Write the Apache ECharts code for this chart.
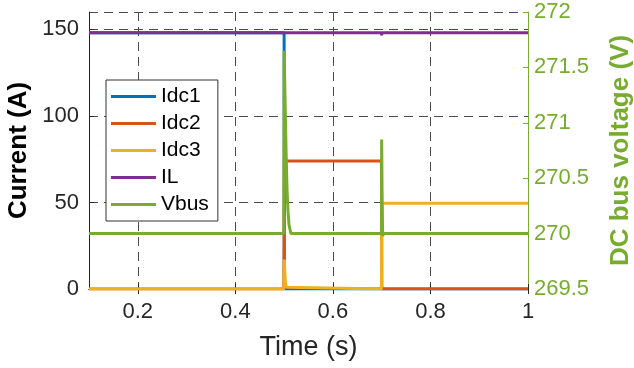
<!DOCTYPE html>
<html>
<head>
<meta charset="utf-8">
<script src="https://cdn.jsdelivr.net/npm/echarts@6/dist/echarts.min.js"></script>
<style>
  html, body { margin: 0; padding: 0; background: #fff; }
  #chart { width: 634px; height: 368px; }
</style>
</head>
<body>
<div id="chart"></div>
<script>
// Time axis ticks (s)
const timeTicks = [0.2, 0.4, 0.6, 0.8, 1];

// Idc1: source 1 current (A)
const idc1T = [0.1, 0.5, 0.5005, 1];
const idc1V = [148, 148, 0, 0];

// Idc2: source 2 current (A)
const idc2T = [0.1, 0.4995, 0.5005, 0.501, 0.503, 0.6995, 0.7005, 1];
const idc2V = [0, 0, 74, 75.5, 74, 74, 0, 0];

// Idc3: source 3 current (A)
const idc3T = [0.1, 0.4995, 0.5005, 0.501, 0.502, 0.503, 0.505, 0.508, 0.6995, 0.7005, 1];
const idc3V = [0, 0, 17, 13, 7, 3, 1, 0, 0, 49.5, 49.5];

// IL: load current (A)
const ilT = [0.1, 0.6995, 0.7, 0.7005, 1];
const ilV = [148, 148, 146.5, 148, 148];

// Vbus: DC bus voltage (V)
const vbusT = [0.1, 0.4995, 0.5, 0.502, 0.504, 0.506, 0.508, 0.51, 0.514, 0.6995, 0.7, 0.701, 0.702, 0.704, 1];
const vbusV = [270, 270, 271.65, 271.2, 270.75, 270.4, 270.2, 270.08, 270, 270, 270.85, 270.3, 269.98, 270, 270];

const pair = (t, v) => t.map((x, i) => [x, v[i]]);

const FONT = "'Liberation Sans', Arial, Helvetica, sans-serif";
const GREEN = '#77AC30';
const AXIS = '#262626';
const GRID = '#4a4a4a';

const chart = echarts.init(document.getElementById('chart'), null, { renderer: 'canvas' });

chart.setOption({
  animation: false,
  backgroundColor: '#fff',
  textStyle: { fontFamily: FONT },
  grid: { left: 89, right: 106, top: 12, bottom: 79, containLabel: false, outerBoundsMode: 'none' },
  legend: {
    data: ['Idc1', 'Idc2', 'Idc3', 'IL', 'Vbus'],
    orient: 'vertical',
    left: 106, top: 80,
    padding: [6, 9, 6, 5],
    itemWidth: 45, itemHeight: 3, itemGap: 6,
    icon: 'rect',
    backgroundColor: '#fff',
    borderColor: '#333',
    borderWidth: 1,
    textStyle: { fontFamily: FONT, fontSize: 21, lineHeight: 21, color: '#000' }
  },
  xAxis: [{
    type: 'value', min: 0.1, max: 1,
    name: 'Time (s)', nameLocation: 'middle', nameGap: 45,
    nameTextStyle: { fontFamily: FONT, fontSize: 27, color: AXIS },
    axisLine: { show: true, onZero: false, lineStyle: { color: AXIS, width: 1 } },
    axisTick: { show: true, inside: true, length: 5, customValues: timeTicks, lineStyle: { color: AXIS } },
    axisLabel: { customValues: timeTicks, fontFamily: FONT, fontSize: 22, color: AXIS, margin: 12 },
    splitLine: { show: true, lineStyle: { color: GRID, type: [9, 6], width: 1 } }
  }, {
    type: 'value', min: 0.1, max: 1, position: 'top',
    axisLine: { show: true, lineStyle: { color: AXIS, width: 1 } },
    axisTick: { show: true, inside: true, length: 5, customValues: timeTicks, lineStyle: { color: AXIS } },
    axisLabel: { show: false },
    splitLine: { show: false }
  }],
  yAxis: [{
    type: 'value', min: 0, max: 160, interval: 50,
    name: 'Current (A)', nameLocation: 'middle', nameGap: 44,
    nameTextStyle: { fontFamily: FONT, fontSize: 26, fontWeight: 'bold', color: '#000' },
    axisLine: { show: true, lineStyle: { color: AXIS, width: 1 } },
    axisTick: { show: true, inside: true, length: 5, lineStyle: { color: AXIS } },
    axisLabel: { fontFamily: FONT, fontSize: 22, color: AXIS, margin: 10, showMaxLabel: false },
    splitLine: { show: true, lineStyle: { color: GRID, type: [9, 6], width: 1 } }
  }, {
    type: 'value', min: 269.5, max: 272, interval: 0.5, position: 'right',
    name: 'DC bus voltage (V)', nameLocation: 'middle', nameGap: 80,
    nameTextStyle: { fontFamily: FONT, fontSize: 26, fontWeight: 'bold', color: GREEN },
    axisLine: { show: true, lineStyle: { color: GREEN, width: 1 } },
    axisTick: { show: true, inside: true, length: 5, lineStyle: { color: GREEN } },
    axisLabel: { fontFamily: FONT, fontSize: 22, color: GREEN, margin: 6 },
    splitLine: { show: false }
  }],
  series: [
    { name: 'Idc1', type: 'line', data: pair(idc1T, idc1V), showSymbol: false, symbol: 'none',
      lineStyle: { color: '#0072BD', width: 3 }, itemStyle: { color: '#0072BD' } },
    { name: 'Idc2', type: 'line', data: pair(idc2T, idc2V), showSymbol: false, symbol: 'none',
      lineStyle: { color: '#D95319', width: 3 }, itemStyle: { color: '#D95319' } },
    { name: 'Idc3', type: 'line', data: pair(idc3T, idc3V), showSymbol: false, symbol: 'none',
      lineStyle: { color: '#EDB120', width: 3 }, itemStyle: { color: '#EDB120' } },
    { name: 'IL', type: 'line', data: pair(ilT, ilV), showSymbol: false, symbol: 'none',
      lineStyle: { color: '#7E2F8E', width: 3 }, itemStyle: { color: '#7E2F8E' } },
    { name: 'Vbus', type: 'line', yAxisIndex: 1, data: pair(vbusT, vbusV), showSymbol: false, symbol: 'none',
      lineStyle: { color: GREEN, width: 3 }, itemStyle: { color: GREEN } }
  ]
});
</script>
</body>
</html>
